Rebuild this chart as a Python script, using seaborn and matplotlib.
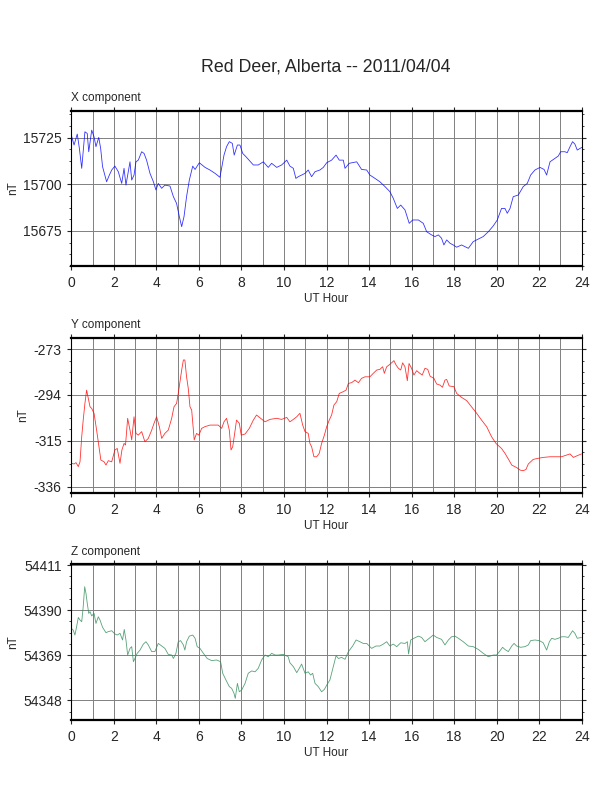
import numpy as np
import pandas as pd
import matplotlib
matplotlib.use("Agg")
import matplotlib.pyplot as plt
from matplotlib.ticker import MultipleLocator, AutoMinorLocator
import seaborn as sns

# Data (UT hour, nT)
x_hours = [0.00, 0.13, 0.28, 0.38, 0.49, 0.56, 0.64, 0.75, 0.82, 0.96, 1.07, 1.16, 1.29, 1.38, 1.47,
           1.66, 1.79, 1.90, 2.05, 2.21, 2.37, 2.48, 2.57, 2.68, 2.76, 2.84, 2.95, 3.04, 3.15, 3.31,
           3.42, 3.54, 3.70, 3.86, 3.98, 4.09, 4.25, 4.40, 4.64, 4.80, 4.95, 5.08, 5.19, 5.30, 5.42,
           5.55, 5.71, 5.82, 6.02, 6.29, 6.52, 6.76, 6.99, 7.18, 7.30, 7.43, 7.57, 7.66, 7.81, 7.93,
           8.06, 8.24, 8.56, 8.79, 9.03, 9.26, 9.42, 9.66, 9.89, 10.13,
           10.28, 10.44, 10.56, 10.67, 10.83, 10.99, 11.14, 11.30, 11.46, 11.69, 11.85, 12.01, 12.24,
           12.45, 12.60, 12.79, 12.87, 13.07, 13.42, 13.65, 13.89, 14.04, 14.28, 14.51, 14.75, 14.98,
           15.14, 15.33, 15.49, 15.69, 15.89, 16.05, 16.32, 16.55, 16.71, 16.94, 17.10, 17.26, 17.41,
           17.52, 17.65, 17.81, 17.96, 18.12, 18.35, 18.51, 18.67, 18.90, 19.14, 19.37, 19.61, 19.84,
           20.03, 20.23, 20.39, 20.50, 20.63, 20.78, 21.02, 21.25, 21.44, 21.60, 21.80, 22.04, 22.23,
           22.35, 22.51, 22.74, 22.90, 23.01, 23.21, 23.32, 23.45, 23.57, 23.68, 23.79, 23.92, 24.00]
x_values = [15726.4, 15721.1, 15727.0, 15719.3, 15708.6, 15717.5, 15728.2, 15727.3, 15717.5, 15729.1,
            15725.5, 15720.2, 15725.2, 15719.3, 15709.5, 15701.4, 15705.0, 15707.7, 15709.8, 15706.8,
            15700.5, 15708.6, 15699.6, 15706.8, 15712.1, 15702.3, 15705.0, 15712.1, 15713.0, 15717.5,
            15716.6, 15713.0, 15705.9, 15701.4, 15697.0, 15700.5, 15697.9, 15699.6, 15699.1, 15693.4,
            15689.8, 15682.7, 15677.3, 15682.7, 15693.4, 15702.3, 15709.8, 15708.0, 15711.6, 15709.1,
            15707.7, 15705.9, 15703.8, 15715.7, 15720.2, 15722.9, 15722.0, 15715.7, 15721.1, 15721.1,
            15716.6, 15714.5, 15710.4, 15710.4, 15712.1, 15709.1, 15711.3, 15709.1, 15710.4, 15713.0,
            15709.8, 15708.6, 15703.2, 15704.1, 15705.0, 15705.9, 15707.7, 15704.1, 15706.8, 15707.7,
            15709.1, 15711.6, 15713.0, 15715.7, 15713.0, 15713.0, 15708.6, 15711.3, 15712.1, 15708.0,
            15707.7, 15705.0, 15703.2, 15701.4, 15698.8, 15696.1, 15692.5, 15687.1, 15688.9, 15686.3,
            15679.1, 15680.9, 15680.9, 15679.1, 15674.6, 15672.9, 15672.0, 15672.9, 15671.1, 15667.5,
            15670.2, 15668.4, 15667.5, 15666.3, 15667.5, 15666.6, 15665.7, 15669.3, 15670.7, 15672.0,
            15674.6, 15677.7, 15680.9, 15687.1, 15687.1, 15684.5, 15687.1, 15693.4, 15694.3, 15698.8,
            15700.5, 15705.0, 15707.7, 15709.1, 15708.0, 15705.0, 15712.1, 15713.9, 15715.2, 15717.5,
            15717.5, 15717.0, 15720.2, 15722.9, 15721.6, 15718.4, 15719.3, 15719.8]

y_hours = [0.00, 0.13, 0.22, 0.33, 0.41, 0.49, 0.56, 0.64, 0.72, 0.80, 0.88, 0.96, 1.07, 1.19, 1.30,
           1.39, 1.54, 1.63, 1.74, 1.90, 2.05, 2.16, 2.29, 2.38, 2.48, 2.55, 2.65, 2.76, 2.84, 2.95,
           3.04, 3.15, 3.31, 3.46, 3.62, 3.78, 3.89, 4.01, 4.14, 4.25, 4.40, 4.56, 4.72, 4.83, 4.95,
           5.03, 5.11, 5.19, 5.27, 5.34, 5.42, 5.50, 5.58, 5.66, 5.74, 5.78, 5.89, 6.00, 6.13, 6.29,
           6.52, 6.76, 6.91, 7.07, 7.18, 7.30, 7.43, 7.51, 7.59, 7.66, 7.77, 7.90, 7.99, 8.17, 8.37,
           8.56, 8.71, 8.90, 9.11, 9.34, 9.66, 9.89, 10.13,
           10.28, 10.44, 10.60, 10.75, 10.88, 10.99, 11.14, 11.22, 11.30, 11.41, 11.54, 11.66, 11.77,
           11.90, 12.01, 12.13, 12.24, 12.35, 12.48, 12.60, 12.79, 12.92, 13.03, 13.18, 13.34, 13.50,
           13.65, 13.81, 14.04, 14.20, 14.36, 14.51, 14.64, 14.72, 14.83, 14.94, 15.06, 15.17, 15.27,
           15.38, 15.49, 15.58, 15.69, 15.80, 15.88, 16.00, 16.11, 16.24, 16.39, 16.50, 16.63, 16.76,
           16.87, 17.05, 17.18, 17.34, 17.45, 17.57, 17.65, 17.77, 17.99, 18.12, 18.35, 18.59, 18.82,
           19.06, 19.29, 19.53, 19.76, 19.97, 20.23, 20.39, 20.56, 20.71, 20.95, 21.10, 21.25, 21.38,
           21.49, 21.72, 21.96, 22.19, 22.51, 22.82, 23.05, 23.21, 23.45, 23.61, 23.79, 23.99]
y_values = [-325.3, -325.6, -325.0, -326.8, -324.6, -313.1, -305.5, -297.9, -291.8, -295.6,
            -299.4, -300.2, -302.4, -310.1, -317.7, -323.8, -324.6, -326.1, -324.1, -324.6,
            -319.2, -318.5, -325.3, -319.2, -316.2, -316.9, -304.7, -310.1, -314.6, -304.0,
            -311.6, -312.4, -310.8, -315.4, -313.9, -310.1, -307.0, -304.0, -308.5, -313.9,
            -311.6, -310.1, -304.7, -299.4, -297.9, -293.3, -287.9, -282.6, -278.0, -278.0,
            -285.7, -291.0, -299.4, -300.9, -310.1, -314.6, -311.6, -312.4, -309.3, -308.5,
            -307.8, -307.8, -307.8, -309.3, -306.3, -304.7, -310.1, -319.2, -317.7, -313.1,
            -305.5, -307.0, -312.4, -311.9, -309.3, -305.5, -303.2, -304.7, -306.3, -305.2,
            -304.7, -305.2, -304.3,
            -306.3, -305.2, -304.0, -302.4, -307.8, -310.8, -311.6, -316.2, -317.7, -322.3,
            -322.3, -320.7, -316.2, -312.4, -308.5, -305.5, -303.2, -298.6, -297.1, -293.3,
            -292.5, -291.8, -288.7, -288.4, -287.2, -288.4, -286.4, -285.7, -285.7, -284.1,
            -282.6, -282.3, -281.1, -284.1, -281.1, -280.3, -279.3, -278.3, -280.3, -281.8,
            -282.6, -279.3, -281.1, -287.5, -279.6, -281.8, -284.9, -282.9, -284.1, -284.9,
            -281.8, -282.3, -285.4, -286.4, -289.0, -289.5, -290.5, -287.2, -286.9, -289.9,
            -290.2, -293.3, -295.1, -296.6, -299.4, -302.4, -305.5, -308.5, -313.1, -316.2,
            -318.5, -320.7, -323.5, -326.1, -327.3, -328.4, -328.7, -328.1, -325.6, -323.5,
            -323.0, -322.6, -322.3, -322.3, -322.3, -321.8, -321.0, -322.6, -321.8, -321.0]

z_hours = [0.00, 0.09, 0.17, 0.25, 0.33, 0.41, 0.49, 0.56, 0.63, 0.69, 0.75, 0.82, 0.88, 0.96, 1.07,
           1.16, 1.27, 1.35, 1.47, 1.63, 1.74, 1.90, 2.05, 2.16, 2.29, 2.41, 2.49, 2.57, 2.65, 2.76,
           2.84, 2.92, 2.99, 3.10, 3.23, 3.39, 3.51, 3.62, 3.78, 3.93, 4.09, 4.25, 4.40, 4.56, 4.72,
           4.80, 4.92, 5.03, 5.14, 5.27, 5.34, 5.42, 5.55, 5.71, 5.82, 5.92, 6.05, 6.21, 6.39, 6.60,
           6.83, 7.02, 7.12, 7.27, 7.43, 7.54, 7.65, 7.71, 7.81, 7.90, 8.01, 8.17, 8.32, 8.48, 8.64,
           8.79, 8.95, 9.11, 9.26, 9.42, 9.58, 9.73, 9.97, 10.20,
           10.28, 10.44, 10.60, 10.72, 10.83, 10.99, 11.14, 11.25, 11.35, 11.46, 11.61, 11.77, 11.90,
           12.01, 12.16, 12.32, 12.45, 12.56, 12.71, 12.87, 13.03, 13.23, 13.39, 13.57, 13.73, 13.89,
           14.12, 14.33, 14.51, 14.67, 14.83, 14.98, 15.14, 15.30, 15.49, 15.69, 15.80, 15.86, 15.96,
           16.11, 16.32, 16.47, 16.63, 16.83, 17.02, 17.18, 17.41, 17.57, 17.73, 17.88, 18.04, 18.20,
           18.43, 18.67, 18.90, 19.14, 19.37, 19.61, 19.84, 20.00, 20.13, 20.28, 20.39, 20.55, 20.71,
           20.82, 20.94, 21.13, 21.33, 21.49, 21.60, 21.80, 22.01, 22.19, 22.35, 22.48, 22.59, 22.74,
           22.90, 23.06, 23.21, 23.37, 23.57, 23.68, 23.79, 23.99]
z_values = [54381.5, 54380.7, 54378.4, 54382.3, 54386.6, 54385.4, 54384.6, 54391.6, 54400.9, 54397.8,
            54393.2, 54388.5, 54389.3, 54387.3, 54388.5, 54383.8, 54386.9, 54385.4, 54382.0, 54379.5,
            54380.0, 54380.4, 54378.9, 54378.4, 54379.2, 54376.1, 54381.0, 54376.1, 54369.1, 54372.2,
            54373.0, 54366.0, 54367.5, 54369.9, 54371.4, 54374.2, 54375.3, 54373.8, 54370.7, 54370.7,
            54374.5, 54373.3, 54372.2, 54369.4, 54369.1, 54367.5, 54369.9, 54375.3, 54375.8, 54373.8,
            54371.4, 54375.3, 54377.9, 54378.4, 54376.9, 54373.0, 54372.2, 54369.9, 54367.5, 54366.5,
            54366.8, 54366.0, 54360.6, 54357.5, 54354.4, 54353.6, 54351.3, 54348.9, 54355.9, 54352.0,
            54352.8, 54355.9, 54360.6, 54361.7, 54361.3, 54362.9, 54366.8, 54369.1, 54368.3, 54369.9,
            54369.1, 54369.1, 54369.4, 54368.3,
            54365.5, 54363.7, 54360.9, 54362.9, 54364.9, 54360.6, 54361.3, 54359.8, 54360.6, 54355.9,
            54354.4, 54352.0, 54353.1, 54355.1, 54357.5, 54363.7, 54368.8, 54367.5, 54368.0, 54367.1,
            54370.7, 54373.3, 54376.1, 54375.3, 54374.5, 54374.5, 54372.2, 54373.3, 54373.3, 54374.2,
            54375.3, 54373.3, 54374.2, 54373.0, 54374.8, 54374.5, 54375.3, 54369.6, 54376.1, 54376.9,
            54377.9, 54377.3, 54375.3, 54376.9, 54378.4, 54377.3, 54376.4, 54373.8, 54376.1, 54377.6,
            54377.9, 54376.9, 54375.3, 54373.3, 54373.0, 54371.7, 54369.9, 54368.3, 54369.1, 54369.1,
            54370.7, 54372.7, 54371.7, 54370.7, 54373.3, 54374.5, 54373.3, 54372.7, 54373.0, 54373.8,
            54375.8, 54376.1, 54375.8, 54374.8, 54371.4, 54375.3, 54376.9, 54376.4, 54376.9, 54377.6,
            54377.6, 54377.3, 54380.4, 54379.2, 54376.9, 54377.3]

titles = ["X component", "Y component", "Z component"]
colors = ["blue", "red", "seagreen"]
yticks = [[15675, 15700, 15725], [-336, -315, -294, -273], [54348, 54369, 54390, 54411]]
ylims = [(15656.2, 15739.5), (-338.9, -267.8), (54339.0, 54411.3)]

sns.set_style("white")
plt.rcParams['font.family'] = ['Liberation Sans', 'DejaVu Sans']
plt.rcParams['axes.unicode_minus'] = False

fig = plt.figure(figsize=(6.12, 7.92), dpi=100)
fig.text(326 / 612, 1 - 67 / 792, "Red Deer, Alberta -- 2011/04/04",
         ha='center', va='center', fontsize=12.8)

# panel positions (left, bottom, width, height) in figure fractions
boxes = [(0.1165, 0.6641, 0.834, 0.1961),
         (0.1165, 0.3775, 0.834, 0.1961),
         (0.1165, 0.0913, 0.834, 0.1961)]
series = [(x_hours, x_values), (y_hours, y_values), (z_hours, z_values)]

for box, (hrs, vals), title, col, yt, yl in zip(boxes, series, titles, colors, yticks, ylims):
    ax = fig.add_axes(box)
    df = pd.DataFrame({'hour': hrs, 'nT': vals})
    sns.lineplot(data=df, x='hour', y='nT', ax=ax, color=col, linewidth=0.6,
                 alpha=0.8, estimator=None, sort=False)
    ax.set_xlim(0, 24)
    ax.set_ylim(*yl)
    ax.xaxis.set_major_locator(MultipleLocator(2))
    ax.xaxis.set_minor_locator(MultipleLocator(1))
    ax.set_yticks(yt)
    ax.yaxis.set_minor_locator(AutoMinorLocator(4))
    ax.grid(which='both', axis='x', color='0.5', linewidth=0.7)
    ax.grid(which='major', axis='y', color='0.5', linewidth=0.7)
    ax.set_axisbelow(True)

    ax.tick_params(which='major', direction='out', length=3, width=0.8,
                   labelsize=10, right=True, top=True, left=True, bottom=True)
    ax.tick_params(which='minor', direction='out', length=1.5, width=0.6,
                   right=True, left=True, top=False, bottom=False)
    ax.tick_params(axis='x', which='major', pad=4.5)
    ax.tick_params(axis='y', which='major', pad=3.9)

    for side in ['top', 'bottom']:
        ax.spines[side].set_linewidth(1.6)
    for side in ['left', 'right']:
        ax.spines[side].set_linewidth(0.8)
    for s in ax.spines.values():
        s.set_color('black')

    ax.set_xlabel("UT Hour", fontsize=8.5, labelpad=2)
    ax.set_ylabel("nT", fontsize=8.5, labelpad=3)
    ax.text(0.0, 1.062, title, transform=ax.transAxes, fontsize=8.5,
            ha='left', va='baseline')

fig.savefig("out.png", dpi=100)
